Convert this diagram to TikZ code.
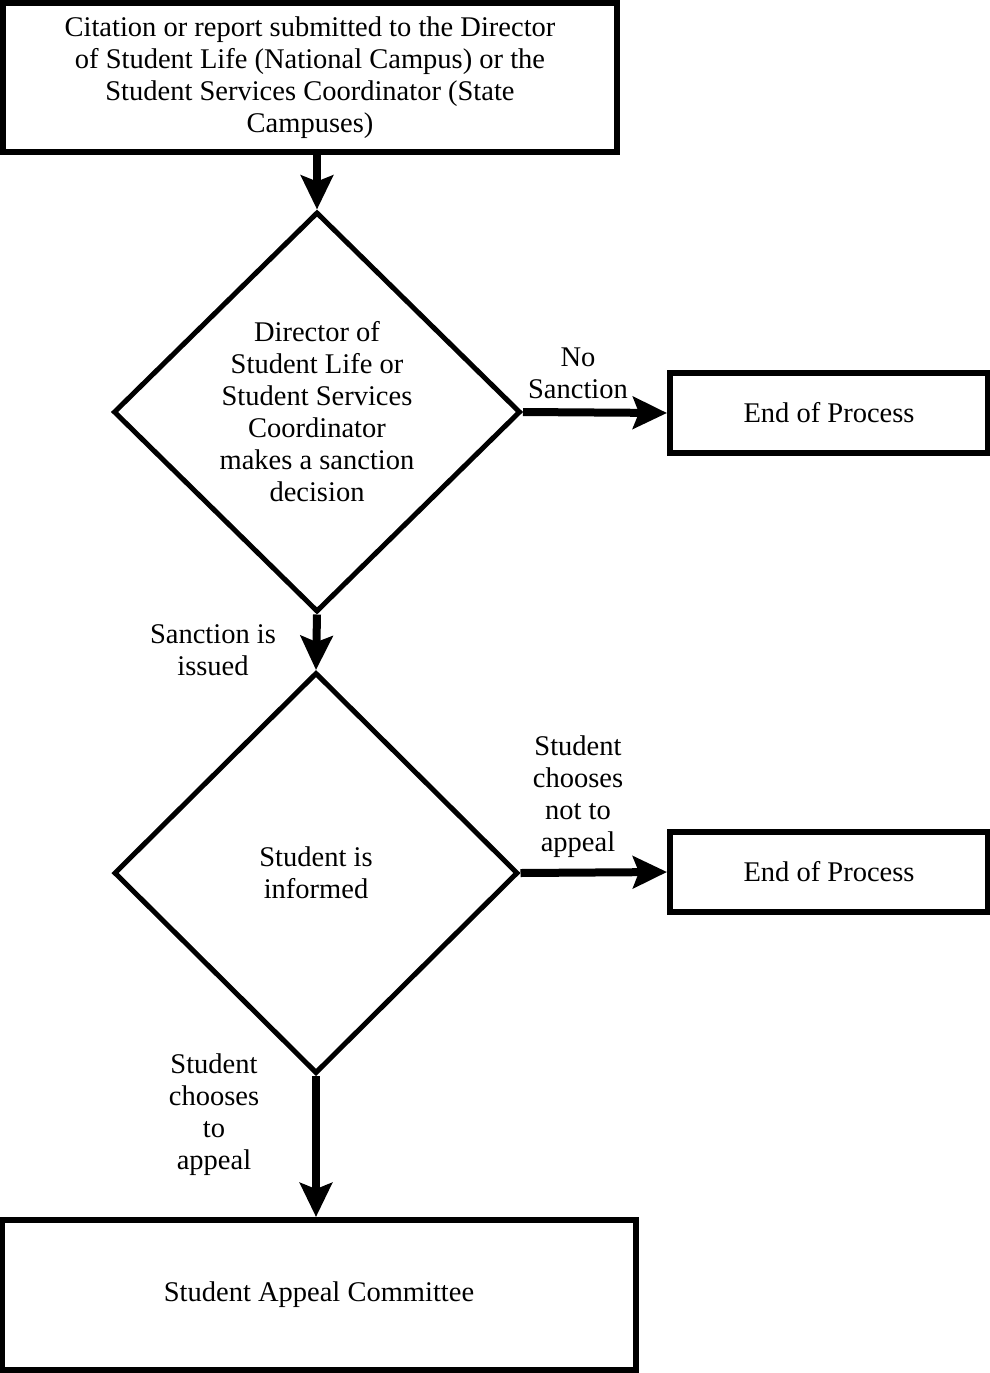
\documentclass[tikz,border=0pt]{standalone}
\usepackage{fontspec}
\setmainfont{Liberation Serif}
\usetikzlibrary{shapes.geometric,arrows.meta}
\begin{document}
\begin{tikzpicture}[x=1pt,y=-1pt,
  every node/.style={font=\fontsize{28.5}{32}\selectfont, align=center, inner sep=0pt},
  procbox/.style={draw, line width=6pt, rectangle},
  decision/.style={draw, line width=5pt, diamond, aspect=1},
  flow/.style={line width=8pt, -{Stealth[length=34pt,width=32pt,inset=6pt]}},
  lbl/.style={}]
\path[use as bounding box] (0,0) rectangle (990,1373);
\node[procbox, minimum width=614pt, minimum height=149pt] (top) at (310,77.5)
  {Citation or report submitted to the Director\\of Student Life (National Campus) or the\\Student Services Coordinator (State\\Campuses)};
\node[decision, minimum width=407pt, minimum height=400pt] (d1) at (317,412)
  {Director of\\Student Life or\\Student Services\\Coordinator\\makes a sanction\\decision};
\node[procbox, minimum width=318pt, minimum height=80pt] (e1) at (829,413) {End of Process};
\node[decision, minimum width=404pt, minimum height=401pt] (d2) at (316,873)
  {Student is\\informed};
\node[procbox, minimum width=318pt, minimum height=80pt] (e2) at (829,872) {End of Process};
\node[procbox, minimum width=634pt, minimum height=150pt] (bot) at (319,1295) {Student Appeal Committee};
\draw[flow] (d1.north |- top.south) -- (d1.north);
\draw[flow] (d1.east) -- (e1.west);
\draw[flow] (d1.south) -- (d2.north);
\draw[flow] (d2.east) -- (e2.west);
\draw[flow] (d2.south) -- (d2.south |- bot.north);
\node[lbl] (l1) at (578,373) {No\\Sanction};
\node[lbl] (l2) at (213,650) {Sanction is\\issued};
\node[lbl] (l3) at (578,797) {Student\\chooses\\not to\\appeal};
\node[lbl] (l4) at (214,1115) {Student\\chooses\\to\\appeal};
\end{tikzpicture}
\end{document}
